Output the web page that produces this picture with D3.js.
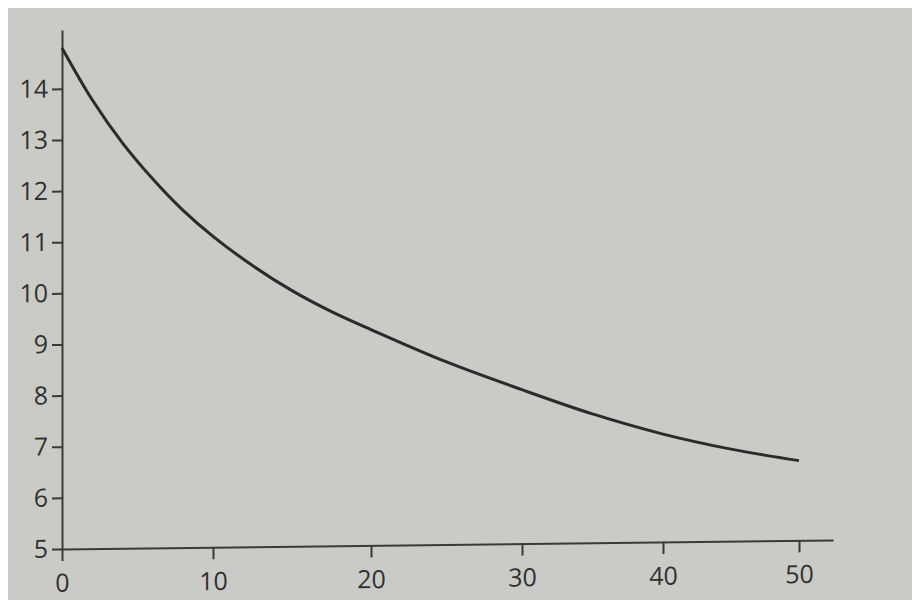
<!DOCTYPE html>
<html lang="en">
<head>
<meta charset="utf-8">
<title>Decay curve</title>
<script src="https://cdnjs.cloudflare.com/ajax/libs/d3/7.8.5/d3.min.js"></script>
<style>
    body { margin: 0; background: #ffffff; }
    svg { display: block; }
    .axis text { font-family: "Open Sans", sans-serif; font-size: 25px; fill: #303030; }
    .axis path, .axis line { stroke: #3a3a3a; stroke-width: 2px; }
</style>
</head>
<body>
<svg width="912" height="600"></svg>
<script>
// values
var xValues = [0, 2, 4, 6, 8, 10, 12.5, 15, 17.5, 20, 25, 30, 35, 40, 45, 50];
var yValues = [14.8, 13.78, 12.93, 12.22, 11.6, 11.08, 10.5, 10.0, 9.58, 9.22, 8.57, 8.01, 7.52, 7.11, 6.8, 6.56];
var xTicks = [0, 10, 20, 30, 40, 50];
var yTicks = [5, 6, 7, 8, 9, 10, 11, 12, 13, 14];

var svg = d3.select("svg");

// paper background (photo has a thin white strip top and left)
svg.append("rect")
    .attr("x", 8).attr("y", 8)
    .attr("width", 904).attr("height", 592)
    .attr("fill", "#cacbc7");

// the photographed page is a little tilted, so skew the plot a bit
var g = svg.append("g")
    .attr("transform", "translate(62,0) skewY(-0.67)");

// polylinear x: tick spacing in the photo is not even (perspective)
var x = d3.scaleLinear()
    .domain([0, 10, 20, 30, 40, 50, 52.3])
    .range([0, 151, 309, 460, 601, 737, 771]);

var y = d3.scaleLinear()
    .domain([5, 15.15])
    .range([549, 30]);

g.append("g")
    .attr("class", "axis")
    .attr("transform", "translate(0,549)")
    .call(d3.axisBottom(x).tickValues(xTicks).tickSize(12).tickSizeOuter(0).tickPadding(13))
    .call(function(s) { s.selectAll("text").attr("dy", "0.71em"); });

g.append("g")
    .attr("class", "axis")
    .call(d3.axisLeft(y).tickValues(yTicks).tickSize(10).tickSizeOuter(0).tickPadding(4));

var data = xValues.map(function(d, i) { return { x: d, y: yValues[i] }; });

var line = d3.line()
    .x(function(d) { return x(d.x); })
    .y(function(d) { return y(d.y); })
    .curve(d3.curveCatmullRom);

g.append("path")
    .datum(data)
    .attr("fill", "none")
    .attr("stroke", "#2b2b2b")
    .attr("stroke-width", 3)
    .attr("d", line);
</script>
</body>
</html>
